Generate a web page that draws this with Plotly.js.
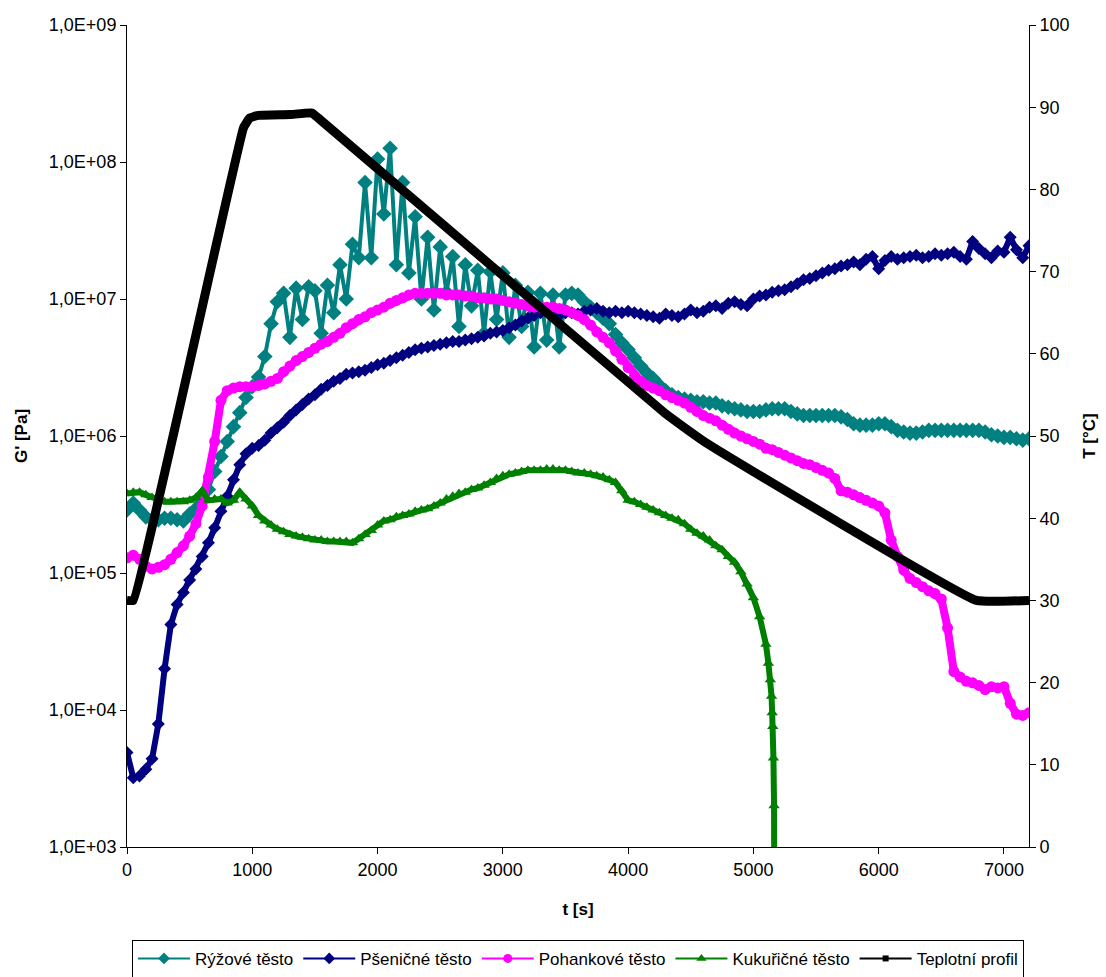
<!DOCTYPE html>
<html>
<head>
<meta charset="utf-8">
<script src="https://cdn.plot.ly/plotly-3.0.1.min.js"></script>
<style>html,body{margin:0;padding:0;background:#fff;}#chart{width:1106px;height:977px;}</style>
</head>
<body>
<div id="chart"></div>
<script>
// Time axis for G' series [s]
const time = [0,50,100,150,200,250,300,350,400,450,500,550,600,650,700,750,800,850,900,950,
1000,1050,1100,1150,1200,1250,1300,1350,1400,1450,1500,1550,1600,1650,1700,1750,1800,1850,1900,1950,
2000,2050,2100,2150,2200,2250,2300,2350,2400,2450,2500,2550,2600,2650,2700,2750,2800,2850,2900,2950,
3000,3050,3100,3150,3200,3250,3300,3350,3400,3450,3500,3550,3600,3650,3700,3750,3800,3850,3900,3950,
4000,4050,4100,4150,4200,4250,4300,4350,4400,4450,4500,4550,4600,4650,4700,4750,4800,4850,4900,4950,
5000,5050,5100,5150,5200,5250,5300,5350,5400,5450,5500,5550,5600,5650,5700,5750,5800,5850,5900,5950,
6000,6050,6100,6150,6200,6250,6300,6350,6400,6450,6500,6550,6600,6650,6700,6750,6800,6850,6900,6950,
7000,7050,7100,7150,7200];

// Rýžové těsto (rice dough) G' [Pa]
const rice = [2.88e5,3.24e5,2.88e5,2.57e5,2.45e5,2.45e5,2.51e5,2.51e5,2.45e5,2.40e5,2.69e5,2.95e5,3.39e5,4.07e5,5.50e5,7.08e5,9.12e5,1.17e6,1.48e6,1.91e6,
2.29e6,2.69e6,3.80e6,6.61e6,9.55e6,1.10e7,5.25e6,1.20e7,7.08e6,1.23e7,1.15e7,5.62e6,1.26e7,7.94e6,1.78e7,1.0e7,2.51e7,2.0e7,7.08e7,2.0e7,
1.05e8,4.17e7,1.26e8,1.78e7,7.08e7,1.55e7,3.98e7,1.0e7,2.82e7,8.32e6,2.40e7,1.12e7,2.04e7,6.31e6,1.78e7,8.91e6,1.62e7,5.62e6,1.58e7,7.08e6,
1.55e7,5.25e6,1.26e7,6.31e6,1.12e7,4.47e6,1.10e7,5.01e6,1.07e7,4.47e6,1.07e7,1.10e7,1.07e7,9.55e6,8.71e6,7.94e6,7.24e6,6.61e6,5.50e6,4.79e6,
4.27e6,3.72e6,3.24e6,2.88e6,2.63e6,2.34e6,2.14e6,2.0e6,1.91e6,1.86e6,1.82e6,1.78e6,1.78e6,1.74e6,1.74e6,1.66e6,1.62e6,1.58e6,1.55e6,1.51e6,
1.51e6,1.51e6,1.55e6,1.58e6,1.58e6,1.58e6,1.51e6,1.45e6,1.41e6,1.41e6,1.41e6,1.41e6,1.41e6,1.41e6,1.38e6,1.32e6,1.23e6,1.20e6,1.20e6,1.20e6,
1.23e6,1.23e6,1.17e6,1.10e6,1.07e6,1.05e6,1.05e6,1.07e6,1.10e6,1.10e6,1.10e6,1.10e6,1.10e6,1.10e6,1.10e6,1.10e6,1.10e6,1.07e6,1.02e6,1.0e6,
9.77e5,9.77e5,9.55e5,9.33e5,9.55e5];

// Pšeničné těsto (wheat dough) G' [Pa]
const wheat = [4.9e3,3.2e3,3.3e3,3.7e3,4.4e3,7.9e3,2.0e4,4.2e4,5.9e4,7.2e4,8.9e4,1.07e5,1.32e5,1.66e5,2.14e5,2.82e5,3.63e5,4.79e5,6.17e5,7.41e5,
8.13e5,8.51e5,9.33e5,1.05e6,1.15e6,1.26e6,1.41e6,1.55e6,1.70e6,1.86e6,2.0e6,2.19e6,2.34e6,2.51e6,2.63e6,2.82e6,2.88e6,2.95e6,3.02e6,3.16e6,
3.31e6,3.39e6,3.55e6,3.72e6,3.89e6,4.07e6,4.27e6,4.37e6,4.47e6,4.57e6,4.68e6,4.79e6,4.90e6,4.90e6,5.01e6,5.13e6,5.25e6,5.37e6,5.62e6,5.75e6,
5.89e6,6.17e6,6.46e6,6.92e6,7.24e6,7.59e6,7.94e6,8.13e6,7.94e6,7.59e6,7.94e6,7.94e6,7.76e6,8.13e6,8.32e6,8.51e6,8.13e6,7.94e6,8.13e6,7.94e6,
8.13e6,7.94e6,7.76e6,7.59e6,7.41e6,7.24e6,7.76e6,7.59e6,7.41e6,7.76e6,8.32e6,7.94e6,8.13e6,8.71e6,8.91e6,8.51e6,9.33e6,9.55e6,9.12e6,8.91e6,
1.0e7,1.05e7,1.07e7,1.12e7,1.15e7,1.17e7,1.23e7,1.29e7,1.38e7,1.41e7,1.48e7,1.55e7,1.62e7,1.66e7,1.74e7,1.78e7,1.86e7,1.78e7,1.95e7,2.04e7,
1.66e7,1.91e7,2.04e7,1.95e7,2.0e7,2.04e7,2.09e7,2.0e7,2.04e7,2.14e7,2.09e7,2.14e7,2.19e7,2.04e7,1.95e7,2.63e7,2.34e7,2.14e7,2.0e7,2.24e7,
2.19e7,2.82e7,2.29e7,2.0e7,2.45e7];

// Pohankové těsto (buckwheat dough) G' [Pa]
const buckwheat = [1.29e5,1.35e5,1.26e5,1.12e5,1.07e5,1.10e5,1.15e5,1.26e5,1.41e5,1.58e5,1.86e5,2.29e5,3.09e5,5.01e5,9.12e5,1.82e6,2.14e6,2.24e6,2.29e6,2.29e6,
2.29e6,2.34e6,2.40e6,2.51e6,2.63e6,2.95e6,3.24e6,3.55e6,3.80e6,4.07e6,4.37e6,4.68e6,4.90e6,5.25e6,5.62e6,6.17e6,6.61e6,7.08e6,7.41e6,7.94e6,
8.32e6,8.71e6,9.33e6,9.77e6,1.02e7,1.07e7,1.10e7,1.10e7,1.10e7,1.10e7,1.10e7,1.07e7,1.07e7,1.07e7,1.05e7,1.05e7,1.02e7,1.02e7,1.0e7,1.0e7,
9.77e6,9.55e6,9.33e6,9.12e6,8.91e6,8.71e6,8.71e6,8.71e6,8.71e6,8.51e6,8.32e6,7.94e6,7.59e6,7.08e6,6.46e6,5.75e6,5.25e6,4.79e6,4.17e6,3.63e6,
3.16e6,2.75e6,2.51e6,2.34e6,2.24e6,2.14e6,2.0e6,1.91e6,1.82e6,1.74e6,1.62e6,1.51e6,1.41e6,1.35e6,1.29e6,1.20e6,1.12e6,1.05e6,1.0e6,9.55e5,
9.12e5,8.71e5,8.13e5,7.94e5,7.59e5,7.24e5,6.92e5,6.61e5,6.31e5,6.17e5,5.89e5,5.62e5,5.37e5,4.90e5,3.98e5,3.89e5,3.72e5,3.55e5,3.39e5,3.24e5,
3.09e5,2.75e5,1.74e5,1.32e5,1.05e5,9.12e4,8.51e4,7.94e4,7.41e4,7.08e4,6.46e4,3.98e4,1.91e4,1.74e4,1.62e4,1.58e4,1.51e4,1.41e4,1.48e4,1.45e4,
1.48e4,1.12e4,9.33e3,9.12e3,9.55e3];

// Kukuřičné těsto (corn dough): own time axis, measurement ends near 5170 s
const timeCorn = [0,50,100,150,200,250,300,350,400,450,500,550,600,650,700,750,800,850,900,950,
1000,1050,1100,1150,1200,1250,1300,1350,1400,1450,1500,1550,1600,1650,1700,1750,1800,1850,1900,1950,
2000,2050,2100,2150,2200,2250,2300,2350,2400,2450,2500,2550,2600,2650,2700,2750,2800,2850,2900,2950,
3000,3050,3100,3150,3200,3250,3300,3350,3400,3450,3500,3550,3600,3650,3700,3750,3800,3850,3900,3950,
4000,4050,4100,4150,4200,4250,4300,4350,4400,4450,4500,4550,4600,4650,4700,4750,4800,4850,4900,4950,
5000,5050,5100,5120,5135,5145,5150,5155,5160,5165,5170];
const corn = [3.80e5,3.89e5,3.89e5,3.72e5,3.55e5,3.39e5,3.31e5,3.31e5,3.31e5,3.31e5,3.39e5,3.55e5,3.98e5,3.39e5,3.47e5,3.47e5,3.24e5,3.39e5,3.89e5,3.47e5,
3.09e5,2.63e5,2.40e5,2.24e5,2.09e5,2.0e5,1.91e5,1.86e5,1.82e5,1.78e5,1.74e5,1.74e5,1.70e5,1.70e5,1.70e5,1.70e5,1.66e5,1.78e5,1.91e5,2.04e5,
2.24e5,2.40e5,2.45e5,2.57e5,2.63e5,2.69e5,2.82e5,2.88e5,2.95e5,3.09e5,3.24e5,3.47e5,3.63e5,3.80e5,3.89e5,4.07e5,4.17e5,4.37e5,4.57e5,4.90e5,
5.13e5,5.25e5,5.37e5,5.50e5,5.62e5,5.62e5,5.62e5,5.75e5,5.75e5,5.62e5,5.62e5,5.50e5,5.37e5,5.37e5,5.25e5,5.13e5,5.01e5,4.79e5,4.57e5,3.98e5,
3.39e5,3.31e5,3.16e5,3.02e5,2.88e5,2.75e5,2.63e5,2.51e5,2.45e5,2.29e5,2.09e5,1.95e5,1.86e5,1.74e5,1.58e5,1.48e5,1.32e5,1.20e5,1.02e5,8.32e4,
6.61e4,4.79e4,3.02e4,2.19e4,1.66e4,1.26e4,9.55e3,7.59e3,4.47e3,2.0e3,10];

// Teplotní profil (temperature profile) [°C]
const tempTime = [0,50,930,980,1050,1300,1476,1540,4300,4600,6781,7200];
const tempVal  = [30,30,87.5,88.7,89.0,89.1,89.3,88.5,52.7,49.4,30,30];

const names = ["Rýžové těsto","Pšeničné těsto","Pohankové těsto","Kukuřičné těsto","Teplotní profil"];
const colors = ["#008080","#000080","#FF00FF","#008000","#000000"];
const symbols = ["diamond","diamond","circle","triangle-up","square"];

const data = [
  {x: time, y: rice, type:"scatter", mode:"lines+markers", name:names[0], showlegend:false,
   line:{color:colors[0], width:4}, marker:{symbol:symbols[0], size:12, color:colors[0]}},
  {x: time, y: wheat, type:"scatter", mode:"lines+markers", name:names[1], showlegend:false,
   line:{color:colors[1], width:6}, marker:{symbol:symbols[1], size:10, color:colors[1]}},
  {x: time, y: buckwheat, type:"scatter", mode:"lines+markers", name:names[2], showlegend:false,
   line:{color:colors[2], width:8}, marker:{symbol:symbols[2], size:11, color:colors[2]}},
  {x: timeCorn, y: corn, type:"scatter", mode:"lines+markers", name:names[3], showlegend:false,
   line:{color:colors[3], width:6}, marker:{symbol:symbols[3], size:10, color:colors[3]}},
  {x: tempTime, y: tempVal, type:"scatter", mode:"lines", name:names[4], showlegend:false, yaxis:"y2",
   line:{color:colors[4], width:9, shape:"spline", smoothing:0.3}}
];
// legend-only entries
for (let i = 0; i < 5; i++) {
  data.push({x:[null], y:[null], type:"scatter", mode:"lines+markers", name:names[i],
    yaxis: i===4 ? "y2" : "y",
    line:{color:colors[i], width:2}, marker:{symbol:symbols[i], size:(i===4?6:9), color:colors[i]}});
}

const yTicks = [1e3,1e4,1e5,1e6,1e7,1e8,1e9];
const yTickText = ["1,0E+03","1,0E+04","1,0E+05","1,0E+06","1,0E+07","1,0E+08","1,0E+09"];
const xTicks = [0,1000,2000,3000,4000,5000,6000,7000];

const fontFam = "Liberation Sans, Arial, sans-serif";
const layout = {
  width:1106, height:977,
  margin:{l:127, r:77, t:25, b:130, autoexpand:false},
  paper_bgcolor:"#fff", plot_bgcolor:"#fff",
  font:{family:fontFam, color:"#000", size:18},
  showlegend:true,
  legend:{orientation:"h", x:0.5, xanchor:"center", y:-0.113, yanchor:"top",
    bordercolor:"#000", borderwidth:1, bgcolor:"#fff", font:{size:17, family:fontFam},
    itemwidth:52, tracegroupgap:0},
  xaxis:{range:[0,7200], tickvals:xTicks, ticks:"outside", ticklen:6, tickcolor:"#000",
    showline:true, linecolor:"#000", linewidth:1, showgrid:false, zeroline:false,
    tickfont:{size:18},
    title:{text:"<b>t [s]</b>", font:{size:17}, standoff:24}},
  yaxis:{type:"log", range:[3,9], tickvals:yTicks, ticktext:yTickText, ticks:"outside", ticklen:6,
    tickcolor:"#000", showline:true, linecolor:"#000", linewidth:1, showgrid:false, zeroline:false,
    tickfont:{size:18},
    title:{text:"<b>G' [Pa]</b>", font:{size:17}, standoff:16}},
  yaxis2:{overlaying:"y", side:"right", range:[0,100], tick0:0, dtick:10, ticks:"outside", ticklen:6,
    tickcolor:"#000", showline:true, linecolor:"#000", linewidth:1, showgrid:false, zeroline:false,
    tickfont:{size:18},
    title:{text:"<b>T [°C]</b>", font:{size:17}, standoff:14}}
};

Plotly.newPlot("chart", data, layout, {displayModeBar:false, staticPlot:true});
</script>
</body>
</html>
